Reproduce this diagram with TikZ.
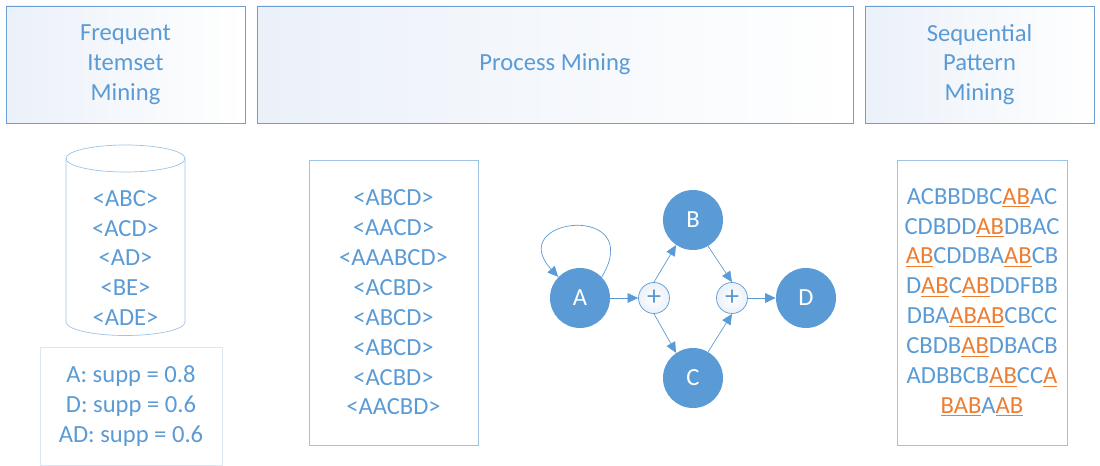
\documentclass[tikz,border=0pt]{standalone}
\usepackage{fontspec}
\setmainfont{Carlito}
\usepackage{xcolor}
\usepackage{tikz}
\usetikzlibrary{
  arrows.meta,
  positioning,
}
\definecolor{minblue}{HTML}{5B9BD5}
\definecolor{hdrline}{HTML}{6D9FD6}
\definecolor{hdrbg}{HTML}{EBF1F9}
\definecolor{boxline}{HTML}{9DC3E6}
\definecolor{suppline}{HTML}{DDE6F2}
\definecolor{patorange}{HTML}{ED7D31}
\newcommand{\patab}[1]{{\color{patorange}\underline{#1}}}

\begin{document}
\begin{tikzpicture}[
    x=0.2mm, y=-0.2mm,
    font=\fontsize{14}{17}\selectfont,
    header/.style={draw=hdrline, left color=hdrbg, right color=white,
                   text=minblue, align=center, minimum height=23.4mm},
    databox/.style={draw=boxline, text=minblue, align=center},
    state/.style={circle, fill=minblue, text=white, minimum size=12mm},
    gate/.style={circle, draw=minblue, inner color=white, outer color=hdrbg,
                 text=minblue, minimum size=6.2mm, inner sep=0pt,
                 font=\fontsize{16}{17}\selectfont},
    flow/.style={draw=minblue, -{Triangle[length=6pt,width=5.5pt]}},
  ]
  \useasboundingbox (0,0) rectangle (1100,466);

  % column headers
  \node[header, minimum width=47.8mm]  (fim) at (125.5,64.5) {Frequent\\Itemset\\Mining};
  \node[header, minimum width=119.2mm] (pm)  at (555,64.5)   {Process Mining};
  \node[header, minimum width=45.8mm]  (spm) at (979.5,64.5) {Sequential\\Pattern\\Mining};

  % itemset database
  \draw[boxline] (66,158.5) -- (66,322) arc[start angle=180, end angle=0,
      x radius=59.5, y radius=13.5] -- (185,158.5);
  \draw[boxline] (125.5,158.5) ellipse[x radius=59.5, y radius=13.5];
  \node[text=minblue, align=center] (db) at (125.5,258)
      {<ABC>\\<ACD>\\<AD>\\<BE>\\<ADE>};
  \node[databox, draw=suppline, minimum width=36.4mm, minimum height=23.6mm]
      (supp) at (131,406) {A: supp = 0.8\\D: supp = 0.6\\AD: supp = 0.6};

  % event log
  \node[databox, minimum width=33.8mm, minimum height=57mm] (log) at (393.5,302.5)
      {<ABCD>\\<AACD>\\<AAABCD>\\<ACBD>\\<ABCD>\\<ABCD>\\<ACBD>\\<AACBD>};

  % process model
  \node[state] (A)  at (580,298) {A};
  \node[gate]  (p1) at (654,298) {+};
  \node[state] (B)  at (693,220) {B};
  \node[state] (C)  at (693,378) {C};
  \node[gate]  (p2) at (732,298) {+};
  \node[state] (D)  at (806,298) {D};

  \draw[flow] (A.44) .. controls +(45,-75) and +(-55,-60) .. (A.136);
  \draw[flow] (A) -- (p1);
  \draw[flow] (p1.north) -- (B.236);
  \draw[flow] (p1.south) -- (C.124);
  \draw[flow] (B.300) -- (p2.north);
  \draw[flow] (C.60) -- (p2.south);
  \draw[flow] (p2) -- (D);

  % sequence database
  \node[databox, minimum width=34mm, minimum height=57mm] (seq) at (982,302.5)
      {ACBBDBC\patab{AB}AC\\
       CDBDD\patab{AB}DBAC\\
       \patab{AB}CDDBA\patab{AB}CB\\
       D\patab{AB}C\patab{AB}DDFBB\\
       DBA\patab{ABAB}CBCC\\
       CBDB\patab{AB}DBACB\\
       ADBBCB\patab{AB}CC\patab{A}\\
       \patab{BAB}A\patab{AB}};
\end{tikzpicture}
\end{document}
